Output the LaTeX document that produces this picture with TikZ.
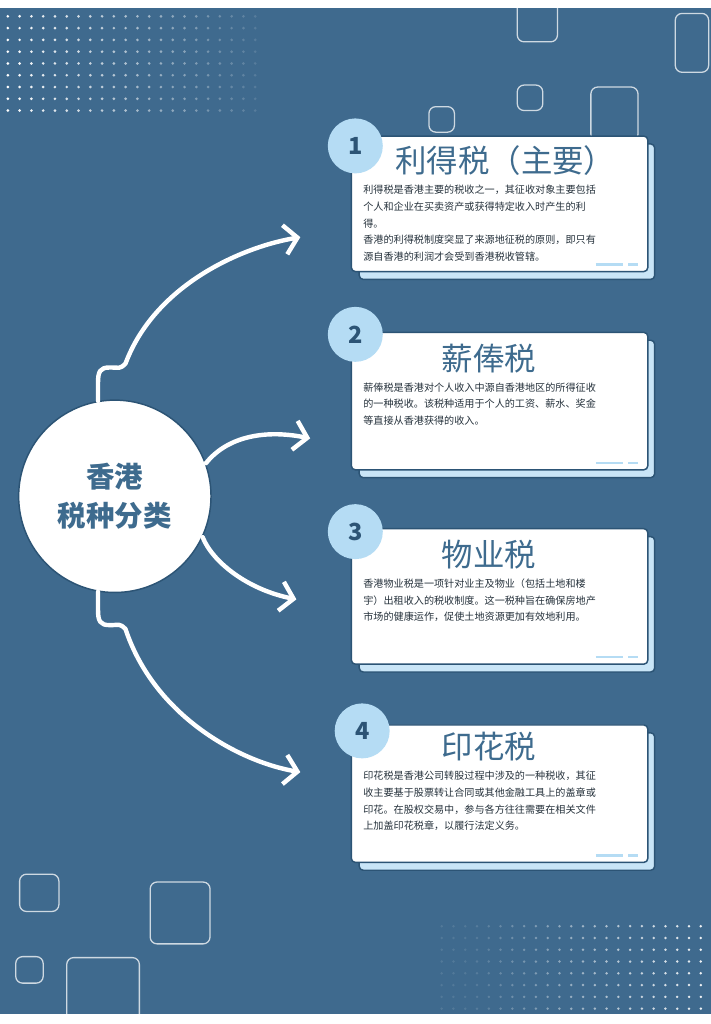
\documentclass[tikz,border=0pt]{standalone}
\usepackage{fontspec}
\newfontfamily\cjk{Noto Sans CJK SC}
\usetikzlibrary{arrows.meta}
\definecolor{bgblue}{HTML}{3F6A8E}
\definecolor{navy}{HTML}{2C5475}
\definecolor{pale}{HTML}{C9E5F7}
\definecolor{badge}{HTML}{B5DCF4}
\definecolor{ink}{HTML}{3E6B8E}
\definecolor{body}{HTML}{26323C}

\begin{document}
\begin{tikzpicture}[x=1pt,y=-1pt,
    card/.style={draw=navy,line width=1.5pt,fill=white,rounded corners=4pt},
    cardshadow/.style={draw=navy,line width=1.5pt,fill=pale,rounded corners=4pt},
    numbadge/.style={circle,fill=badge,minimum size=56pt,inner sep=0pt,
        font=\cjk\bfseries\fontsize{24}{24}\selectfont,text=navy},
    heading/.style={font=\cjk\fontsize{32}{34}\selectfont,text=ink},
    bodytext/.style={anchor=north west,align=left,text=body,inner sep=0pt,
        font=\cjk\fontsize{10.3}{17}\selectfont},
    curl/.style={draw=white,line width=4.5pt,line cap=round,line join=round,
        -{Straight Barb[length=13pt,width=30pt,line width=4.5pt]}},
    deco/.style={draw=white,opacity=0.75,line width=1.3pt,rounded corners=7pt},
    ]
    \fill[bgblue] (0,0) rectangle (724,1024);

    % dotted patches
    \foreach \i in {0,...,21}
      \foreach \j in {0,...,8}
        \fill[white,opacity={max(0.1,1-\i/24)}] (8+12*\i,8+12*\j) circle (1.5pt);
    \foreach \i in {0,...,22}
      \foreach \j in {0,...,7}
        \fill[white,opacity={max(0.1,\i/24)}] (450+12*\i,935+12*\j) circle (1.4pt);

    % outlined squares
    \draw[deco] (527,-8) rectangle (568,34);
    \draw[deco] (688,5) rectangle (722,65);
    \draw[deco] (437,100) rectangle (463,126);
    \draw[deco] (527,78) rectangle (553,104);
    \draw[deco] (602,80) rectangle (650,135);
    \draw[deco] (20,882) rectangle (60,920);
    \draw[deco] (153,890) rectangle (214,953);
    \draw[deco] (68,967) rectangle (142,1034);
    \draw[deco] (16,966) rectangle (44,993);

    % centre
    \node[circle,draw=navy,line width=1.5pt,fill=white,minimum size=196pt,
        align=center,text=ink,font=\cjk\bfseries\fontsize{29}{40}\selectfont]
        (hub) at (117,497) {香港\\税种分类};

    \coordinate (t1) at (306,233);
    \coordinate (t2) at (316,438);
    \coordinate (t3) at (302,602);
    \coordinate (t4) at (306,778);

    \draw[curl] (hub.100) -- ++(0,-18) .. controls +(0,-12) and +(-10,0) .. ++(12,-16)
        .. controls +(10,0) and +(-6,6) .. ++(16,-4)
        .. controls +(30,-80) and +(-60,10) .. (t1);
    \draw[curl] (hub.20) .. controls +(20,-25) and +(-50,-10) .. (t2);
    \draw[curl] (hub.-25) .. controls +(10,25) and +(-50,-10) .. (t3);
    \draw[curl] (hub.-100) -- ++(0,18) .. controls +(0,12) and +(-10,0) .. ++(12,16)
        .. controls +(10,0) and +(-6,-6) .. ++(16,4)
        .. controls +(30,90) and +(-60,-10) .. (t4);

    % cards
    \foreach \y/\h in {130/138,330/140,530/138,730/140}{
      \draw[cardshadow] (366,\y+8) rectangle (667,\y+\h+8);
      \draw[card] (358,\y) rectangle (660,\y+\h);
      \draw[badge,line width=2.5pt] (607,\y+\h-7) -- (635,\y+\h-7);
      \draw[badge,line width=2.5pt] (640,\y+\h-7) -- (650,\y+\h-7);
    }

    \node[numbadge] (n1) at (362,140) {1};
    \node[numbadge] (n2) at (362,332) {2};
    \node[numbadge] (n3) at (362,533) {3};
    \node[numbadge] (n4) at (369,736) {4};

    \node[heading] (h1) at (515,155) {利得税（主要）};
    \node[heading] (h2) at (498,357) {薪俸税};
    \node[heading] (h3) at (498,556) {物业税};
    \node[heading] (h4) at (498,752) {印花税};

    \node[bodytext] (b1) at (370,180) {利得税是香港主要的税收之一，其征收对象主要包括\\个人和企业在买卖资产或获得特定收入时产生的利\\得。\\香港的利得税制度突显了来源地征税的原则，即只有\\源自香港的利润才会受到香港税收管辖。};
    \node[bodytext] (b2) at (370,381) {薪俸税是香港对个人收入中源自香港地区的所得征收\\的一种税收。该税种适用于个人的工资、薪水、奖金\\等直接从香港获得的收入。};
    \node[bodytext] (b3) at (370,581) {香港物业税是一项针对业主及物业（包括土地和楼\\宇）出租收入的税收制度。这一税种旨在确保房地产\\市场的健康运作，促使土地资源更加有效地利用。};
    \node[bodytext] (b4) at (370,777) {印花税是香港公司转股过程中涉及的一种税收，其征\\收主要基于股票转让合同或其他金融工具上的盖章或\\印花。在股权交易中，参与各方往往需要在相关文件\\上加盖印花税章，以履行法定义务。};
\end{tikzpicture}
\end{document}
